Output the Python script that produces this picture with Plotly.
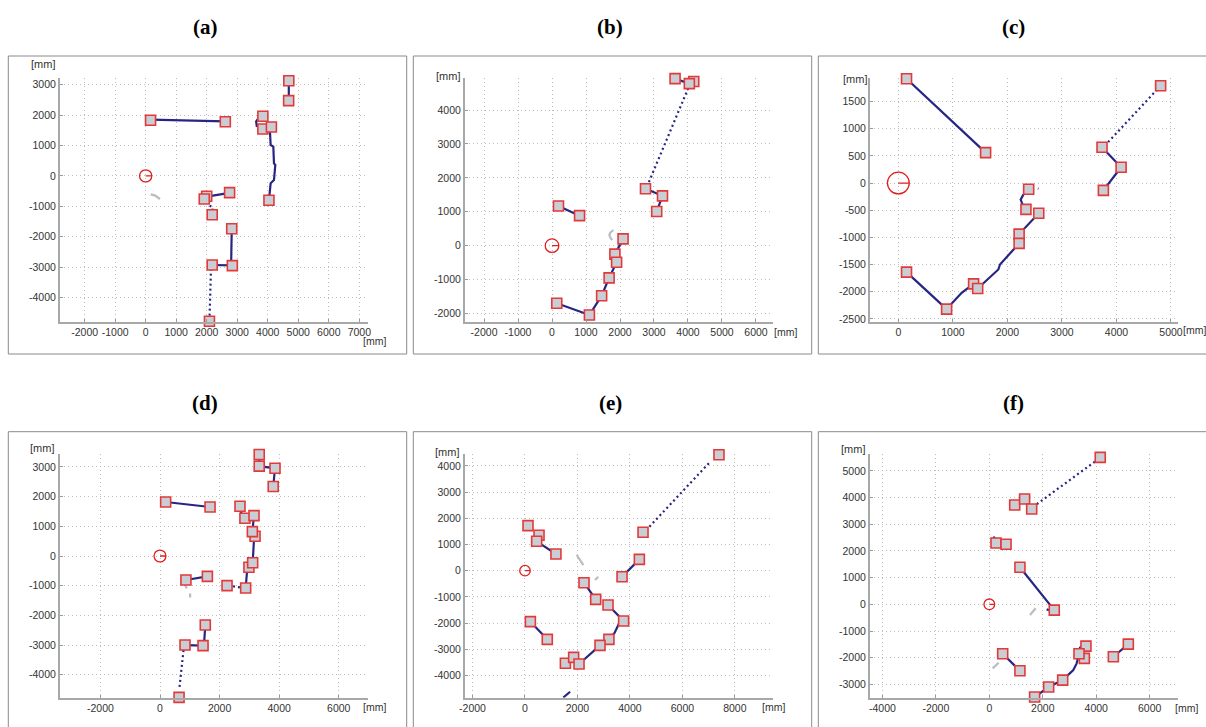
import plotly.graph_objects as go

W, H = 1206, 727

# ---------------- DATA ----------------
# Panel (a)
A_MX = [160, 2610, 4690, 4685, 3840, 3840, 4120, 4040, 2750, 2000, 1920, 2180, 2820, 2840, 2180, 2090]
A_MY = [1830, 1780, 3130, 2475, 1960, 1540, 1610, -800, -550, -670, -760, -1280, -1740, -2950, -2930, -4780]
A_SOLID_X = [160, 2610, None, 4690, 4690, None,
             3840, 3690, 3620, 3640, 3900, 4120, 4073, 4095, 4183, 4204, 4248, 4204, 4095, 4051, 4040, None,
             2750, 2000, None, 2820, 2800, None, 2180, 2840]
A_SOLID_Y = [1850, 1790, None, 3130, 2475, None,
             1960, 1891, 1784, 1641, 1620, 1610, 1455, 1015, 961, 413, 359, -135, -245, -573, -800, None,
             -560, -680, None, -1740, -2950, None, -2930, -2945]
A_DOT_X = [1990, 2050, 2200, 2190, None, 2140, 2100, 2090]
A_DOT_Y = [-860, -960, -1030, -1150, None, -3050, -4200, -4780]
A_GRAY_X = [164, 300, 470]
A_GRAY_Y = [-610, -640, -760]

# Panel (b)
B_MX = [3620, 4170, 4040, 2750, 3250, 3080, 190, 810, 2090, 1850, 1900, 1680, 1460, 140, 1100]
B_MY = [4925, 4840, 4780, 1680, 1470, 1010, 1170, 885, 200, -250, -490, -950, -1475, -1700, -2045]
B_SOLID_X = [3620, 4040, None, 2750, 3250, 3080, None, 190, 810, None,
             140, 1100, 1460, 1680, 1900, 1850, 2090]
B_SOLID_Y = [4925, 4780, None, 1680, 1470, 1010, None, 1170, 885, None,
             -1700, -2045, -1475, -950, -490, -250, 200]
B_DOT_X = [4010, 2810]
B_DOT_Y = [4650, 1780]
B_GRAY_X = [1804, 1710, 1686, 1720, 1775]
B_GRAY_Y = [462, 380, 314, 230, 167]

# Panel (c)
C_MX = [150, 1600, 4810, 3735, 4085, 3760, 2390, 2340, 2575, 2215, 2215, 150, 885, 1380, 1455]
C_MY = [1920, 560, 1790, 660, 290, -135, -115, -485, -555, -940, -1110, -1640, -2320, -1855, -1940]
C_SOLID_X = [150, 1600, None, 3735, 4085, 3760, None, 2390, 2292, 2243, 2292, 2340, None,
             2575, 2215, 2215, 1864, 1834, 1455, None, 1380, 1161, 885, None, 150, 885]
C_SOLID_Y = [1920, 560, None, 660, 290, -135, None, -115, -214, -306, -428, -485, None,
             -555, -940, -1110, -1499, -1591, -1940, None, -1855, -2020, -2320, None, -1640, -2320]
C_DOT_X = [4810, 3760, None, 2560, 2570]
C_DOT_Y = [1790, 660, None, -100, -105]

# Panel (d)
D_MX = [3330, 3330, 3860, 3800, 190, 1680, 2685, 2850, 3155, 3190, 3100, 2985, 3110, 2875, 2250, 1590, 870, 1520, 1445, 840, 640]
D_MY = [3420, 3030, 2955, 2340, 1820, 1650, 1675, 1270, 1360, 665, 820, -380, -225, -1080, -1000, -685, -810, -2325, -3020, -3000, -4765]
D_SOLID_X = [3330, 3330, None, 3330, 3860, 3800, None, 190, 1680, None, 2685, 2740, None,
             3155, 3100, 3154, 3132, 3110, None, 2985, 2920, 2875, None, 1590, 870, None,
             1520, 1490, 1445, 840]
D_SOLID_Y = [3420, 3030, None, 3030, 2955, 2340, None, 1820, 1650, None, 1675, 1400, None,
             1360, 820, 539, -79, -225, None, -380, -530, -1080, None, -685, -810, None,
             -2325, -2800, -3020, -3000]
D_DOT_X = [2450, 2700, None, 790, 650]
D_DOT_Y = [-1020, -1060, None, -3170, -4460]
D_GRAY_X = [840, 900, None, 1010, 1010]
D_GRAY_Y = [-980, -1090, None, -1260, -1400]

# Panel (e)
E_MX = [7395, 4500, 4360, 3700, 115, 535, 445, 1180, 2250, 2695, 3165, 3760, 3200, 2860, 1540, 1855, 2060, 205, 850]
E_MY = [4425, 1465, 430, -230, 1720, 1350, 1120, 635, -460, -1095, -1310, -1920, -2620, -2850, -3535, -3310, -3560, -1945, -2620]
E_SOLID_X = [4360, 3700, None, 445, 1180, None, 2250, 2695, None,
             3165, 3760, 3558, 3405, 3200, 2860, 2060, None, 1855, 1540, None, 205, 850, None, 1460, 1720]
E_SOLID_Y = [430, -230, None, 1120, 635, None, -460, -1095, None,
             -1310, -1920, -2074, -2392, -2620, -2850, -3560, None, -3310, -3535, None, -1945, -2620, None, -4840, -4620]
E_DOT_X = [7010, 4680]
E_DOT_Y = [4100, 1610]
E_GRAY_X = [1970, 2100, 2225, None, 2670, 2795]
E_GRAY_Y = [600, 420, 215, None, -355, -230]

# Panel (f)
F_MX = [4150, 950, 1320, 1585, 250, 625, 1145, 2430, 500, 1145, 1695, 2220, 2745, 3615, 3555, 3355, 4640, 5200]
F_MY = [5510, 3725, 3950, 3575, 2300, 2250, 1390, -215, -1850, -2490, -3475, -3100, -2840, -1565, -2025, -1850, -1965, -1490]
F_SOLID_X = [150, 225, None, 1145, 2430, None, 2145, 2230, None, 500, 1145, None, 1520, 1530, None,
             1695, 2220, 2745, 3142, 3267, 3355, None, 3355, 3392, 3615, None, 4640, 5200]
F_SOLID_Y = [2540, 2450, None, 1390, -215, None, -190, -215, None, -1850, -2490, None, -3300, -3420, None,
             -3475, -3100, -2840, -2463, -2213, -1850, None, -1850, -1625, -1565, None, -1965, -1490]
F_DOT_X = [3950, 1770]
F_DOT_Y = [5350, 3750]
F_GRAY_X = [1520, 1735, None, 125, 350]
F_GRAY_Y = [-400, -150, None, -2400, -2190]

# axis ranges and ticks
PANELS = ["(a)", "(b)", "(c)", "(d)", "(e)", "(f)"]
X_RANGES = [[-2807, 7295], [-2560, 6510], [-520, 5134], [-3356, 6991], [-2287, 9466], [-4464, 7070]]
Y_RANGES = [[-4795, 3209], [-2242, 4936], [-2552, 1928], [-4775, 3427], [-4847, 4440], [-3500, 5625]]
X_TICKS = [list(range(-2000, 7001, 1000)), list(range(-2000, 6001, 1000)), list(range(0, 5001, 1000)),
           list(range(-2000, 6001, 2000)), list(range(-2000, 8001, 2000)), list(range(-4000, 6001, 2000))]
Y_TICKS = [list(range(-4000, 3001, 1000)), list(range(-2000, 4001, 1000)), list(range(-2500, 1501, 500)),
           list(range(-4000, 3001, 1000)), list(range(-4000, 4001, 1000)), list(range(-3000, 5001, 1000))]
UNIT = "[mm]"
ROBOT_R = 200

DATA = [
    (A_MX, A_MY, A_SOLID_X, A_SOLID_Y, A_DOT_X, A_DOT_Y, A_GRAY_X, A_GRAY_Y),
    (B_MX, B_MY, B_SOLID_X, B_SOLID_Y, B_DOT_X, B_DOT_Y, B_GRAY_X, B_GRAY_Y),
    (C_MX, C_MY, C_SOLID_X, C_SOLID_Y, C_DOT_X, C_DOT_Y, [], []),
    (D_MX, D_MY, D_SOLID_X, D_SOLID_Y, D_DOT_X, D_DOT_Y, D_GRAY_X, D_GRAY_Y),
    (E_MX, E_MY, E_SOLID_X, E_SOLID_Y, E_DOT_X, E_DOT_Y, E_GRAY_X, E_GRAY_Y),
    (F_MX, F_MY, F_SOLID_X, F_SOLID_Y, F_DOT_X, F_DOT_Y, F_GRAY_X, F_GRAY_Y),
]

# ---------------- LAYOUT (pixels) ----------------
COL_X = [(60, 368.3), (465, 773.3), (870, 1178.3)]
ROW_Y = [(78.3, 321.7), (454.3, 697.7)]
BOX_X = [(8.3, 406.7), (413.3, 811.7), (818.3, 1220)]
BOX_Y = [(56, 354), (431.7, 740)]
TITLE_X = [205, 610, 1013]
TITLE_Y = [27, 403]
XMM_POS = [(361, 340.7), (771.7, 331.7), (1181, 330), (360.7, 706.7), (760, 706.7), (1172.7, 707.7)]
YMM_POS = [(56.7, 64), (462.3, 76), (869, 79), (56, 447.7), (461, 452), (867, 449)]

NAVY = "#262682"
FONT = "Liberation Sans, Arial, Helvetica, sans-serif"

def px(x):
    return x / W

def py(y):
    return 1 - y / H

fig = go.Figure()
layout = dict(template="none", width=W, height=H, autosize=False,
              margin=dict(l=0, r=0, t=0, b=0, pad=0),
              paper_bgcolor="white", plot_bgcolor="white", showlegend=False)
shapes = []
annotations = []

for i in range(6):
    r, c = divmod(i, 3)
    sfx = "" if i == 0 else str(i + 1)
    xa, ya = "x" + sfx, "y" + sfx
    mx, my, sx, sy, dxs, dys, gx, gy = DATA[i]

    axis_common = dict(showgrid=True, gridcolor="#bdbdbd", griddash="1px,3px", gridwidth=1,
                       zeroline=False, showline=True, linecolor="#a8a8a8", linewidth=2,
                       ticks="inside", ticklen=3, tickwidth=1, tickcolor="#9a9a9a",
                       tickangle=0, automargin=False,
                       tickfont=dict(family=FONT, size=10.5, color="#333333"),
                       tickmode="array", fixedrange=True)
    layout["xaxis" + sfx] = dict(axis_common, domain=[px(COL_X[c][0]), px(COL_X[c][1])],
                                 range=X_RANGES[i], tickvals=X_TICKS[i],
                                 ticktext=[str(v) for v in X_TICKS[i]], anchor=ya)
    layout["yaxis" + sfx] = dict(axis_common, domain=[py(ROW_Y[r][1]), py(ROW_Y[r][0])],
                                 range=Y_RANGES[i], tickvals=Y_TICKS[i],
                                 ticktext=[str(v) for v in Y_TICKS[i]], anchor=xa)

    if gx:
        fig.add_trace(go.Scatter(x=gx, y=gy, mode="lines", xaxis=xa, yaxis=ya,
                                 line=dict(color="#bcbcc4", width=2.2), hoverinfo="skip"))
    fig.add_trace(go.Scatter(x=sx, y=sy, mode="lines", xaxis=xa, yaxis=ya,
                             line=dict(color=NAVY, width=2.2), hoverinfo="skip"))
    fig.add_trace(go.Scatter(x=dxs, y=dys, mode="lines", xaxis=xa, yaxis=ya,
                             line=dict(color=NAVY, width=2.2, dash="2px,3px"), hoverinfo="skip"))
    fig.add_trace(go.Scatter(x=mx, y=my, mode="markers", xaxis=xa, yaxis=ya, cliponaxis=False,
                             marker=dict(symbol="square", size=10, color="#cacdd3",
                                         line=dict(color="#e23a3a", width=1.6))))

    # robot circle at origin
    shapes.append(dict(type="circle", xref=xa, yref=ya, x0=-ROBOT_R, x1=ROBOT_R,
                       y0=-ROBOT_R, y1=ROBOT_R, line=dict(color="#e02020", width=1.3)))
    shapes.append(dict(type="line", xref=xa, yref=ya, x0=0, x1=ROBOT_R, y0=0, y1=0,
                       line=dict(color="#e02020", width=1.3)))

    # outer box
    shapes.append(dict(type="rect", xref="paper", yref="paper",
                       x0=px(BOX_X[c][0]), x1=px(BOX_X[c][1]),
                       y0=py(BOX_Y[r][1]), y1=py(BOX_Y[r][0]),
                       line=dict(color="#8a8a8a", width=1)))

    # title
    annotations.append(dict(text="<b>" + PANELS[i] + "</b>", xref="paper", yref="paper",
                            x=px(TITLE_X[c]), y=py(TITLE_Y[r]), showarrow=False,
                            xanchor="center", yanchor="middle",
                            font=dict(family="Liberation Serif, Times New Roman, serif", size=21, color="black")))
    # unit labels
    annotations.append(dict(text=UNIT, xref="paper", yref="paper",
                            x=px(YMM_POS[i][0]), y=py(YMM_POS[i][1]), showarrow=False,
                            xanchor="right", yanchor="middle",
                            font=dict(family=FONT, size=11, color="#333333")))
    annotations.append(dict(text=UNIT, xref="paper", yref="paper",
                            x=px(XMM_POS[i][0]), y=py(XMM_POS[i][1]), showarrow=False,
                            xanchor="left", yanchor="middle",
                            font=dict(family=FONT, size=10.5, color="#333333")))

layout["shapes"] = shapes
layout["annotations"] = annotations
fig.update_layout(**layout)

POST = ("document.documentElement.style.margin='0';document.documentElement.style.overflow='hidden';"
        "document.body.style.margin='0';document.body.style.padding='0';document.body.style.overflow='hidden';"
        "var gd=document.getElementById('{plot_id}');Plotly.relayout(gd,{width:1206,height:727});")
fig.write_html("out.html", config={"responsive": False, "displayModeBar": False},
               default_width="1206px", default_height="727px", post_script=POST)
